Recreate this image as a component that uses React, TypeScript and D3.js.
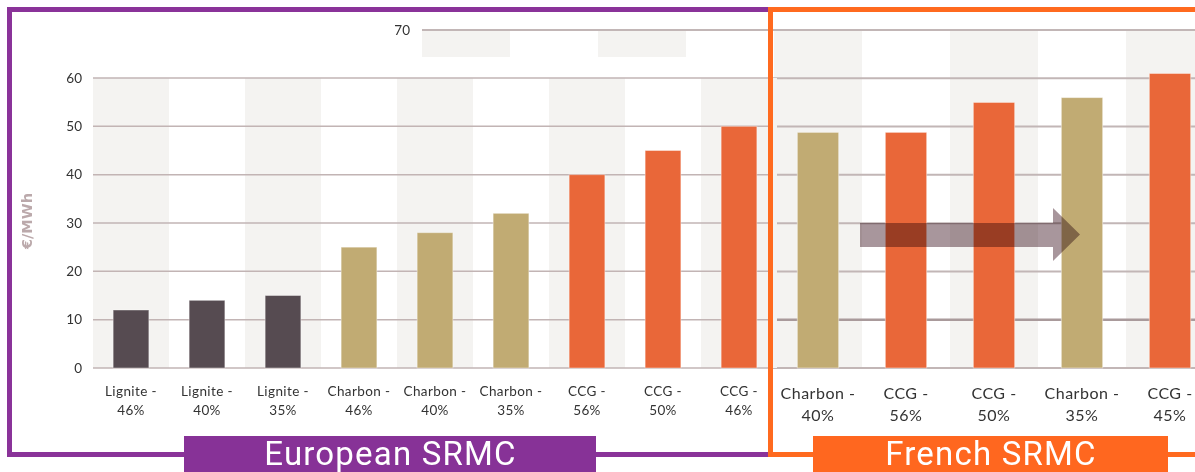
import React from 'react';
import * as d3 from 'd3';

// European SRMC (left panel)
const euCategories = ['Lignite - 46%', 'Lignite - 40%', 'Lignite - 35%', 'Charbon - 46%', 'Charbon - 40%', 'Charbon - 35%', 'CCG - 56%', 'CCG - 50%', 'CCG - 46%'];
const euValues = [12, 14, 15, 25, 28, 32, 40, 45, 50];
const euTicks = [0, 10, 20, 30, 40, 50, 60];

// French SRMC (right panel)
const frCategories = ['Charbon - 40%', 'CCG - 56%', 'CCG - 50%', 'Charbon - 35%', 'CCG - 45%'];
const frValues = [48.8, 48.8, 55, 56, 61];
const frTicks = [0, 10, 20, 30, 40, 50, 60, 70];

const fuelColor: Record<string, string> = {
  Lignite: '#564b51',
  Charbon: '#c1ab73',
  CCG: '#e96739',
};

const W = 1195;
const H = 472;

const fuelOf = (c: string) => c.split(' - ')[0];

const App: React.FC = () => {
  // left chart scales
  const yL = d3.scaleLinear().domain([0, 60]).range([368, 78]);
  const xLBand = d3.scaleBand().domain(euCategories).range([93, 777]);
  const xLBar = d3.scaleBand().domain(euCategories).range([93, 777]).paddingInner(0.53).paddingOuter(0.265);

  // right chart scales
  const yR = d3.scaleLinear().domain([0, 70]).range([368, 30]);
  const xRBand = d3.scaleBand().domain(frCategories).range([774, 1214]);
  const xRBar = d3.scaleBand().domain(frCategories).range([774, 1214]).paddingInner(0.53).paddingOuter(0.265);
  const stepR = xRBand.step();
  const rStart = 774 - 4 * stepR; // bands continue behind the left panel
  const rBands = d3.range(-4, 5).map(i => ({ i, x: 774 + i * stepR }));

  const arrow = d3.line()([
    [860, 223], [1053, 223], [1053, 208], [1080, 234.5], [1053, 261], [1053, 247], [860, 247],
  ]) + 'Z';

  return (
    <svg width={W} height={H} style={{ position: 'absolute', left: 0, top: 0, background: '#fff' }}>
      {/* ---- French chart (underneath) ---- */}
      <g>
        {rBands.map(b => (
          <rect key={b.i} x={b.x} y={yR(70)} width={stepR} height={yR(0) - yR(70)}
            fill={Math.abs(b.i) % 2 === 0 ? '#f4f3f1' : '#fff'} />
        ))}
        {frTicks.map(t => (
          <line key={t} x1={rStart} x2={W} y1={yR(t)} y2={yR(t)}
            stroke={t === 10 ? '#a99a9b' : '#c2b6b6'} strokeWidth={t === 10 ? 2.5 : 2} />
        ))}
        <text x={410} y={yR(70)} dy="0.35em" textAnchor="end" fontFamily="Lato" fontSize={13.5} fill="#333">70</text>
        {frCategories.map((c, i) => (
          <rect key={c} x={xRBar(c)} y={yR(frValues[i])} width={xRBar.bandwidth()}
            height={yR(0) - yR(frValues[i])} fill={fuelColor[fuelOf(c)]}
            stroke="rgba(255,255,255,0.45)" strokeWidth={1} />
        ))}
        {frCategories.map(c => {
          const [a, b] = c.split(' - ');
          const cx = (xRBand(c) as number) + stepR / 2;
          return (
            <text key={c} x={cx} textAnchor="middle" fontFamily="Lato" fontSize={16} letterSpacing={0.5} fill="#333">
              <tspan x={cx} y={399}>{a + ' -'}</tspan>
              <tspan x={cx} y={421}>{b}</tspan>
            </text>
          );
        })}
      </g>

      {/* ---- European chart (on top) ---- */}
      <rect x={0} y={57} width={770} height={H - 57} fill="#fff" />
      <g>
        {euCategories.map((c, i) => (
          <rect key={c} x={xLBand(c)} y={yL(60)} width={xLBand.step()} height={yL(0) - yL(60)}
            fill={i % 2 === 0 ? '#f4f3f1' : '#fff'} />
        ))}
        {euTicks.map(t => (
          <g key={t}>
            <line x1={93} x2={770} y1={yL(t)} y2={yL(t)} stroke="#c2b4b4" strokeWidth={1.5} />
            <text x={82} y={yL(t)} dy="0.35em" textAnchor="end" fontFamily="Lato" fontSize={13.5} fill="#333">{t}</text>
          </g>
        ))}
        {euCategories.map((c, i) => (
          <rect key={c} x={xLBar(c)} y={yL(euValues[i])} width={xLBar.bandwidth()}
            height={yL(0) - yL(euValues[i])} fill={fuelColor[fuelOf(c)]}
            stroke="rgba(255,255,255,0.4)" strokeWidth={1} />
        ))}
        {euCategories.map(c => {
          const [a, b] = c.split(' - ');
          const cx = (xLBand(c) as number) + xLBand.step() / 2;
          return (
            <text key={c} x={cx} textAnchor="middle" fontFamily="Lato" fontSize={13.5} letterSpacing={0.4} fill="#333">
              <tspan x={cx} y={396}>{a + ' -'}</tspan>
              <tspan x={cx} y={415}>{b}</tspan>
            </text>
          );
        })}
        <text transform={`translate(32,221) rotate(-90)`} textAnchor="middle" fontFamily="DejaVu Sans"
          fontWeight="bold" fontSize={14.5} fill="#bba9ab">€/MWh</text>
      </g>

      {/* arrow */}
      <path d={arrow} fill="#a8969c" style={{ mixBlendMode: 'multiply' }} />

      {/* frames */}
      <rect x={9.5} y={9.5} width={761} height={445} fill="none" stroke="#8a3399" strokeWidth={5} />
      <rect x={770.5} y={9.5} width={440} height={445} fill="none" stroke="#ff6a1f" strokeWidth={5} />

      <rect x={184} y={436} width={412} height={40} fill="#873297" />
      <text x={390.5} y={465} textAnchor="middle" fontFamily="Roboto" fontSize={33} letterSpacing={1.2} fill="#fff">European SRMC</text>
      <rect x={813} y={436} width={355} height={40} fill="#ff671f" />
      <text x={991} y={465} textAnchor="middle" fontFamily="Roboto" fontSize={33} letterSpacing={1.2} fill="#fff">French SRMC</text>
    </svg>
  );
};

export default App;
